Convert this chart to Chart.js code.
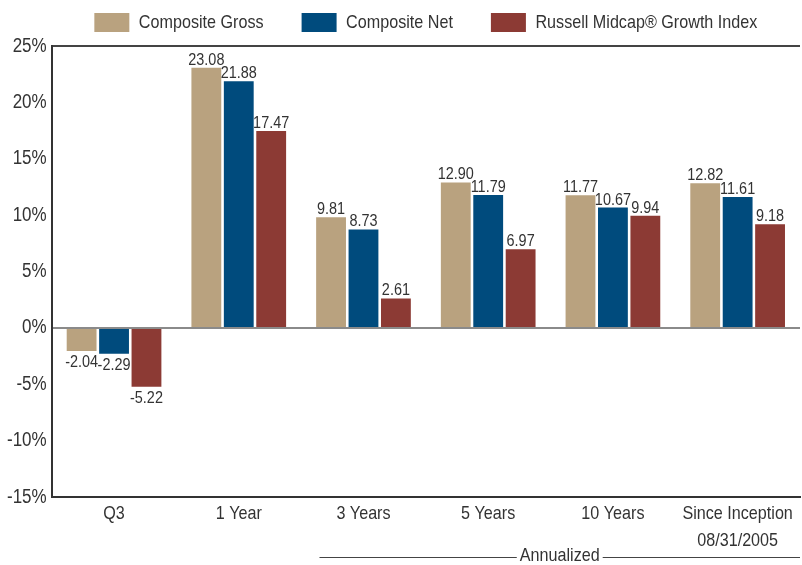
<!DOCTYPE html>
<html>
<head>
<meta charset="utf-8">
<script src="https://cdn.jsdelivr.net/npm/chart.js@4"></script>
<style>
    html, body { margin: 0; padding: 0; background: #fff; }
    #wrap { width: 802px; height: 565px; position: relative; }
</style>
</head>
<body>
<div id="wrap"><canvas id="perfChart"></canvas></div>
<script>
// Chart data
const categories = ['Q3', '1 Year', '3 Years', '5 Years', '10 Years', ['Since Inception', '08/31/2005']];
const compositeGross = [-2.04, 23.08, 9.81, 12.90, 11.77, 12.82];
const compositeNet = [-2.29, 21.88, 8.73, 11.79, 10.67, 11.61];
const russellGrowth = [-5.22, 17.47, 2.61, 6.97, 9.94, 9.18];
const seriesNames = ['Composite Gross', 'Composite Net', 'Russell Midcap\u00AE Growth Index'];
const yTicks = [-15, -10, -5, 0, 5, 10, 15, 20, 25];

const FONT = '"Liberation Sans", Arial, sans-serif';
const SQUEEZE = 0.85; // the original uses a condensed face

const ctx = document.getElementById('perfChart').getContext('2d');

// draw all canvas text a bit narrower, and report matching widths to the layout
const baseFill = ctx.fillText.bind(ctx);
const baseMeasure = ctx.measureText.bind(ctx);
ctx.fillText = function (text, x, y) {
    ctx.save();
    ctx.translate(x, y);
    ctx.scale(SQUEEZE, 1);
    baseFill(text, 0, 0);
    ctx.restore();
};
ctx.measureText = function (text) {
    const m = baseMeasure(text);
    return {
        width: m.width * SQUEEZE,
        actualBoundingBoxAscent: m.actualBoundingBoxAscent,
        actualBoundingBoxDescent: m.actualBoundingBoxDescent
    };
};

// a little more room under the legend
const legendSpace = {
    id: 'legendSpace',
    afterInit(chart) {
        if (!chart.legend) return;
        const fit = chart.legend.fit;
        chart.legend.fit = function () {
            fit.call(this);
            this.height += 4;
        };
    }
};

// Value labels above / below each bar
const valueLabels = {
    id: 'valueLabels',
    afterDatasetsDraw(chart) {
        const c = chart.ctx;
        c.save();
        c.font = '17px ' + FONT;
        c.fillStyle = '#333';
        c.textAlign = 'center';
        chart.data.datasets.forEach((ds, i) => {
            chart.getDatasetMeta(i).data.forEach((bar, j) => {
                const v = ds.data[j];
                if (v >= 0) {
                    c.textBaseline = 'alphabetic';
                    c.fillText(v.toFixed(2), bar.x, bar.y - 3);
                } else {
                    c.textBaseline = 'top';
                    c.fillText(v.toFixed(2), bar.x, bar.y + 3);
                }
            });
        });
        c.restore();
    }
};

// "Annualized" bracket under the last four categories
const annualized = {
    id: 'annualized',
    afterDraw(chart) {
        const c = chart.ctx;
        const x = chart.scales.x;
        const left = x.getPixelForValue(2) - 44;
        const right = chart.chartArea.right;
        const mid = (left + right) / 2;
        const y = 557;
        c.save();
        c.font = '19px ' + FONT;
        c.fillStyle = '#333';
        c.textAlign = 'center';
        c.textBaseline = 'middle';
        const w = c.measureText('Annualized').width;
        c.fillText('Annualized', mid, y - 1);
        c.strokeStyle = '#444';
        c.lineWidth = 1;
        c.beginPath();
        c.moveTo(left, y + 0.5);
        c.lineTo(mid - w / 2 - 3, y + 0.5);
        c.moveTo(mid + w / 2 + 3, y + 0.5);
        c.lineTo(right, y + 0.5);
        c.stroke();
        c.restore();
    }
};

const barOpts = { categoryPercentage: 0.78, barPercentage: 0.92 };

new Chart(ctx, {
    type: 'bar',
    data: {
        labels: categories,
        datasets: [
            Object.assign({ label: seriesNames[0], data: compositeGross, backgroundColor: '#B9A27F' }, barOpts),
            Object.assign({ label: seriesNames[1], data: compositeNet, backgroundColor: '#004B7D' }, barOpts),
            Object.assign({ label: seriesNames[2], data: russellGrowth, backgroundColor: '#8C3A34' }, barOpts)
        ]
    },
    options: {
        responsive: true,
        maintainAspectRatio: false,
        animation: false,
        layout: { padding: { left: 2, right: 2, top: -25, bottom: 8 } },
        plugins: {
            legend: {
                position: 'top',
                fullSize: false,
                labels: {
                    boxWidth: 35,
                    boxHeight: 19,
                    padding: 38,
                    color: '#333',
                    font: { family: FONT, size: 19 }
                }
            },
            tooltip: { enabled: false }
        },
        scales: {
            x: {
                grid: { display: false, drawTicks: false },
                border: { color: '#333', width: 2 },
                ticks: { color: '#333', font: { family: FONT, size: 19, lineHeight: '27px' }, padding: 3 }
            },
            y: {
                min: -15,
                max: 25,
                afterBuildTicks(scale) {
                    scale.ticks = yTicks.map(v => ({ value: v }));
                },
                grid: {
                    drawTicks: false,
                    lineWidth: c => (c.tick && (c.tick.value === 0 || c.tick.value === 25)) ? 2 : 0,
                    color: c => {
                        if (!c.tick) return 'transparent';
                        if (c.tick.value === 0) return '#8a8a8a';
                        if (c.tick.value === 25) return '#444';
                        return 'transparent';
                    }
                },
                border: { color: '#333', width: 2 },
                ticks: {
                    color: '#333',
                    font: { family: FONT, size: 20 },
                    padding: 5,
                    callback: v => v + '%'
                }
            }
        }
    },
    plugins: [legendSpace, valueLabels, annualized]
});
</script>
</body>
</html>
